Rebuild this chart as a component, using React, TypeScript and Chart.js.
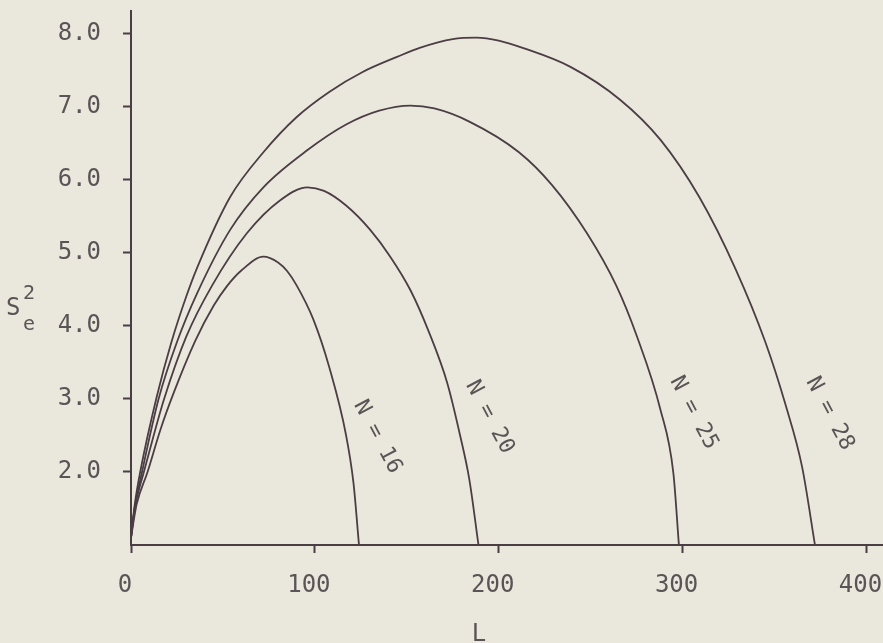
import React, { useEffect, useRef } from "react";
import { Chart, registerables } from "chart.js";

Chart.register(...registerables);

// ---- data ----
const L16 = [0, 3, 9, 16, 23, 35, 45, 52, 60, 72, 80, 85, 90, 99, 108, 117, 121, 124];
const S16 = [1.1, 1.55, 2.0, 2.58, 3.07, 3.8, 4.28, 4.54, 4.76, 4.95, 4.87, 4.75, 4.56, 4.1, 3.42, 2.5, 1.85, 1.0];

const L20 = [0, 2, 7, 12, 18, 30, 44, 63, 81, 96, 105, 117, 130, 141, 152, 162, 172, 179, 184, 189];
const S20 = [1.1, 1.5, 2.0, 2.47, 3.0, 3.85, 4.55, 5.27, 5.72, 5.9, 5.85, 5.65, 5.32, 4.95, 4.49, 3.92, 3.22, 2.5, 1.9, 1.0];

const L25 = [0, 2, 6, 15, 25, 36, 54, 72, 96, 117, 135, 152, 165, 184, 211, 229, 248, 264, 275, 288, 295, 298];
const S25 = [1.1, 1.5, 2.0, 3.0, 3.78, 4.45, 5.32, 5.9, 6.41, 6.76, 6.95, 7.02, 6.98, 6.8, 6.38, 5.93, 5.27, 4.55, 3.87, 2.85, 1.98, 1.0];

const L28 = [0, 2, 5, 14, 22, 30, 36, 54, 72, 90, 108, 126, 145, 157, 175, 188, 200, 213, 239, 266, 288, 309, 329, 345, 356, 365, 372];
const S28 = [1.1, 1.55, 2.0, 3.03, 3.78, 4.4, 4.8, 5.77, 6.38, 6.86, 7.21, 7.48, 7.69, 7.81, 7.93, 7.95, 7.91, 7.81, 7.55, 7.1, 6.55, 5.77, 4.77, 3.78, 2.92, 2.07, 1.0];

const seriesNames = ["N = 16", "N = 20", "N = 25", "N = 28"];
const labelL = [134, 195, 306, 380];
const labelS = [2.48, 2.75, 2.81, 2.8];

const xTicks = [0, 100, 200, 300, 400];
const yTicks = [2, 3, 4, 5, 6, 7, 8];

const X_MIN = 0;
const X_MAX = 409;
const Y_MIN = 1.0;
const Y_MAX = 8.315;

const INK = "#4b3d44";
const TEXT = "#5a5456";
const BG = "#eae8dc";
const FONT = "'DejaVu Sans Mono', monospace";

const toPoints = (xs: number[], ys: number[]) => xs.map((x, i) => ({ x, y: ys[i] }));

const annotations = {
  id: "annotations",
  afterDraw(chart: any) {
    const ctx = chart.ctx;
    const xs = chart.scales.x;
    const ys = chart.scales.y;
    ctx.save();
    ctx.fillStyle = TEXT;
    // curve labels
    ctx.font = `22px ${FONT}`;
    ctx.textAlign = "center";
    ctx.textBaseline = "middle";
    seriesNames.forEach((name, i) => {
      const px = xs.getPixelForValue(labelL[i]);
      const py = ys.getPixelForValue(labelS[i]);
      ctx.save();
      ctx.translate(px, py);
      ctx.rotate((62 * Math.PI) / 180);
      ctx.fillText(name, 0, 0);
      ctx.restore();
    });
    // y axis title S_e^2
    ctx.textAlign = "left";
    ctx.textBaseline = "alphabetic";
    ctx.font = `24px ${FONT}`;
    ctx.fillText("S", 6, 315);
    ctx.font = `20px ${FONT}`;
    ctx.fillText("2", 23, 299);
    ctx.fillText("e", 23, 330);
    // x axis title L
    ctx.font = `24px ${FONT}`;
    ctx.textAlign = "center";
    ctx.fillText("L", 479, 641);
    ctx.restore();
  },
};

export default function App() {
  const ref = useRef<HTMLCanvasElement | null>(null);

  useEffect(() => {
    if (!ref.current) return;
    const mk = (xs: number[], ys: number[]) => ({
      data: toPoints(xs, ys),
      borderColor: INK,
      borderWidth: 1.8,
      pointRadius: 0,
      fill: false,
      cubicInterpolationMode: "monotone" as const,
    });
    const chart = new Chart(ref.current, {
      type: "line",
      data: {
        datasets: [mk(L16, S16), mk(L20, S20), mk(L25, S25), mk(L28, S28)],
      },
      options: {
        animation: false,
        responsive: false,
        devicePixelRatio: 1,
        layout: { padding: { top: 11, left: 0, right: 0, bottom: 0 }, autoPadding: false },
        plugins: { legend: { display: false }, tooltip: { enabled: false } },
        scales: {
          x: {
            type: "linear",
            min: X_MIN,
            max: X_MAX,
            afterBuildTicks: (s: any) => {
              s.ticks = xTicks.map((v) => ({ value: v }));
            },
            afterFit: (s: any) => {
              s.height = 98;
              s.paddingLeft = 0;
              s.paddingRight = 0;
            },
            ticks: {
              includeBounds: false,
              autoSkip: false,
              maxRotation: 0,
              padding: 18,
              labelOffset: -6,
              color: TEXT,
              font: { family: FONT, size: 24 },
              callback: (v: any) => String(v),
            },
            grid: {
              display: true,
              drawOnChartArea: false,
              drawTicks: true,
              tickLength: 8,
              tickColor: INK,
              tickWidth: 2,
            },
            border: { display: true, color: INK, width: 2 },
          },
          y: {
            type: "linear",
            min: Y_MIN,
            max: Y_MAX,
            afterBuildTicks: (s: any) => {
              s.ticks = yTicks.map((v) => ({ value: v }));
            },
            afterFit: (s: any) => {
              s.width = 131;
              s.paddingTop = 0;
              s.paddingBottom = 0;
            },
            ticks: {
              includeBounds: false,
              autoSkip: false,
              padding: 22,
              color: TEXT,
              font: { family: FONT, size: 24 },
              callback: (v: any) => Number(v).toFixed(1),
            },
            grid: {
              display: true,
              drawOnChartArea: false,
              drawTicks: true,
              tickLength: 8,
              tickColor: INK,
              tickWidth: 2,
            },
            border: { display: true, color: INK, width: 2 },
          },
        },
      },
      plugins: [annotations],
    });
    return () => chart.destroy();
  }, []);

  return (
    <div
      style={{
        position: "fixed",
        left: 0,
        top: 0,
        width: 883,
        height: 643,
        background: BG,
      }}
    >
      <canvas ref={ref} width={883} height={643} style={{ width: 883, height: 643, display: "block" }} />
    </div>
  );
}
